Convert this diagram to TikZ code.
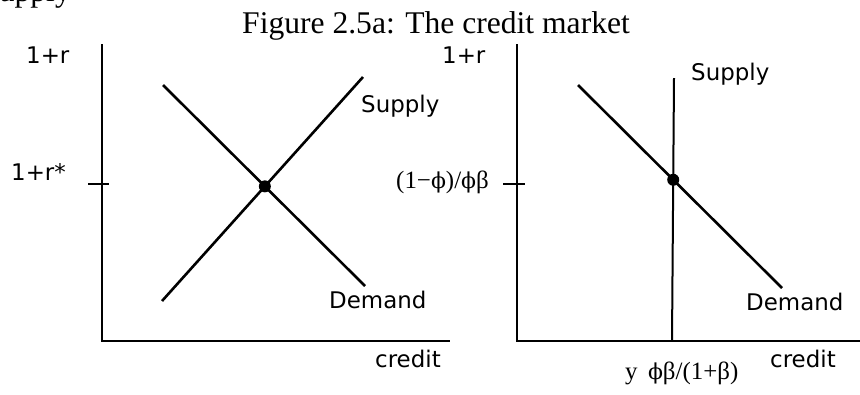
\documentclass[tikz,border=0pt]{standalone}
\usepackage{fontspec}
\setmainfont{Liberation Serif}
\newfontfamily\labfont{DejaVu Sans}
\newfontfamily\grkfont{DejaVu Serif}
\newcommand{\gphi}{{\grkfont\fontsize{22}{26}\selectfont ϕ}}
\usetikzlibrary{intersections}
\begin{document}
\begin{tikzpicture}[x=1bp,y=-1bp,
  curve/.style={line width=2.6bp},
  axisline/.style={line width=2.8bp, line join=miter},
  lbl/.style={font=\labfont\fontsize{23}{27}\selectfont, inner sep=0, anchor=base west},
  mlbl/.style={font=\fontsize{25}{29}\selectfont, inner sep=0},
  ttl/.style={font=\fontsize{31.7}{36}\selectfont, inner sep=0},
  eqdot/.style={circle, fill=black, inner sep=0, minimum size=12bp}]
\useasboundingbox (0,0) rectangle (860,394);
% fragment of preceding text
\node[ttl, anchor=base east] (frag) at (71,1.5) {Supply};
% title
\node[ttl, anchor=base west] (title) at (242,33) {Figure 2.5a: The credit market};
% ---------- left panel ----------
\coordinate (yL) at (102,44);
\coordinate (oL) at (102,341);
\coordinate (xL) at (450,341);
\draw[axisline] (yL) -- (oL) -- (xL);
\coordinate (tL1) at (88,184);
\coordinate (tL2) at (109,184);
\draw[axisline] (tL1) -- (tL2);
\coordinate (dL1) at (163,85);
\coordinate (dL2) at (365,286);
\coordinate (sL1) at (162,301);
\coordinate (sL2) at (363,77);
\draw[curve, name path=demL] (dL1) -- (dL2);
\draw[curve, name path=supL] (sL1) -- (sL2);
\path[name intersections={of=demL and supL, by=eL}];
\node[eqdot] (eqL) at (eL) {};
\node[lbl] (rL) at (26,63) {1+r};
\node[lbl] (rstar) at (11,180) {1+r*};
\node[lbl] (supLlab) at (361,112) {Supply};
\node[lbl] (demLlab) at (329,308) {Demand};
\node[lbl] (crL) at (375,367) {credit};
% ---------- right panel ----------
\coordinate (yR) at (517,44);
\coordinate (oR) at (517,341);
\coordinate (xR) at (862,341);
\draw[axisline] (yR) -- (oR) -- (xR);
\coordinate (tR1) at (503,184);
\coordinate (tR2) at (525,184);
\draw[axisline] (tR1) -- (tR2);
\coordinate (dR1) at (578,85);
\coordinate (dR2) at (782,288);
\coordinate (sR1) at (674,78);
\coordinate (sR2) at (672,341);
\draw[curve, name path=demR] (dR1) -- (dR2);
\draw[line width=2bp, name path=supR] (sR1) -- (sR2);
\path[name intersections={of=demR and supR, by=eR}];
\node[eqdot] (eqR) at (eR) {};
\node[lbl] (rR) at (442,63) {1+r};
\node[mlbl, anchor=east] (phiLab) at (489,182) {(1−\gphi)/\gphi β};
\node[lbl] (supRlab) at (691,80) {Supply};
\node[lbl] (demRlab) at (746,310) {Demand};
\node[lbl] (crR) at (770,367) {credit};
\node[mlbl, anchor=west] (yLab) at (625,373) {y\, \gphi β/(1+β)};
\end{tikzpicture}
\end{document}
